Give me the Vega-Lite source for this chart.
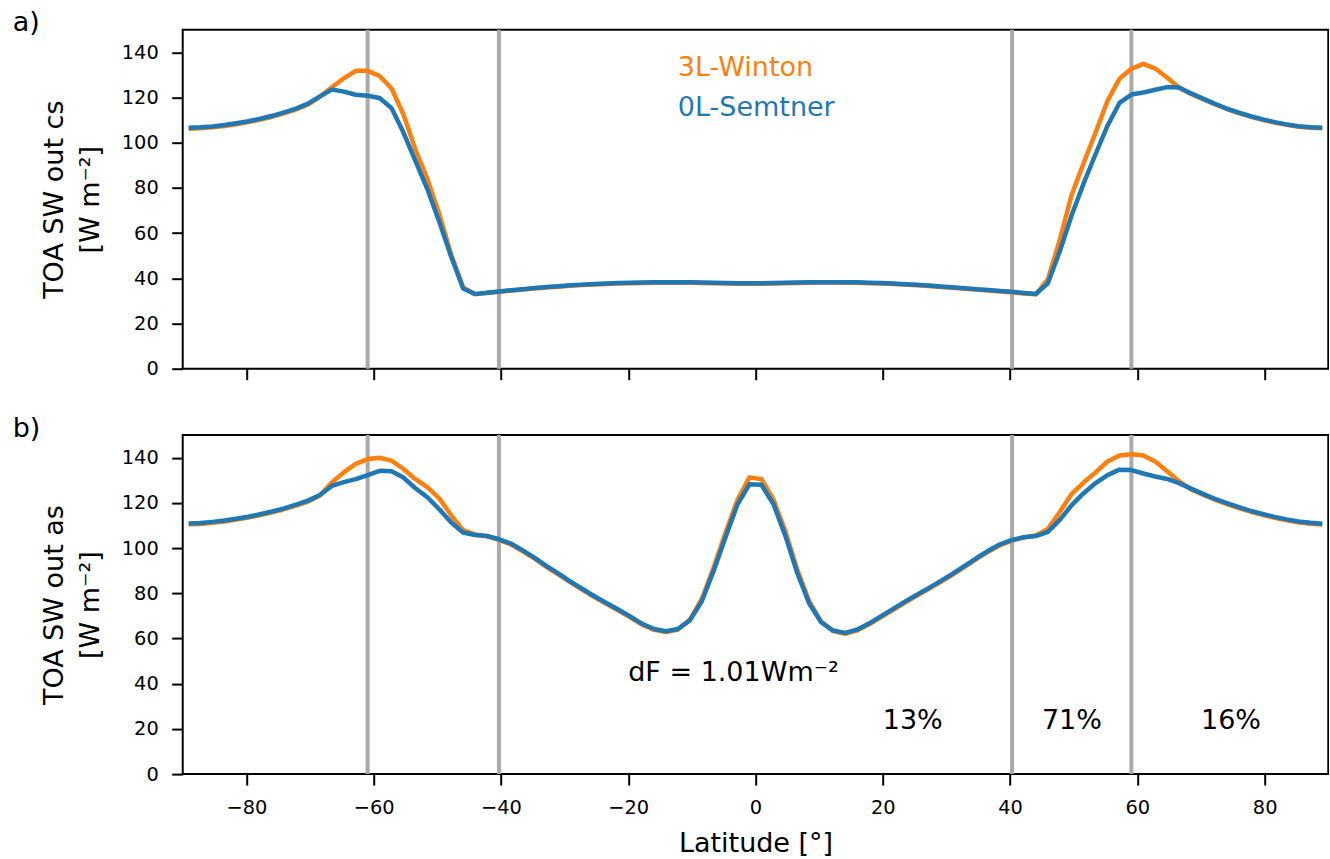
{
  "$schema": "https://vega.github.io/schema/vega-lite/v6.json",
  "padding": {"left": 11.7, "top": 7.7, "right": 0, "bottom": 0},
  "spacing": 66.4,
  "bounds": "flush",
  "config": {
    "font": "DejaVu Sans",
    "view": {"stroke": "black", "strokeWidth": 2},
    "axis": {"domain": false, "grid": false, "tickColor": "black", "tickWidth": 2, "tickSize": 11, "labelFontSize": 19.4, "labelColor": "black", "labelFont": "DejaVu Sans", "titleFont": "DejaVu Sans", "titleFontSize": 27, "titleFontWeight": "normal", "titleColor": "black", "labelPadding": 13.5},
    "title": {"font": "DejaVu Sans", "fontSize": 27, "fontWeight": "normal", "color": "black", "anchor": "start", "frame": "group", "baseline": "alphabetic", "offset": 0, "dx": -170, "dy": 13.5}
  },
  "datasets": {
    "bounds": [{"lat": -60.9375}, {"lat": -40.3125}, {"lat": 40.3125}, {"lat": 59.0625}],
    "legendtext": [
      {"lat": -12.2, "flux": 129.4, "model": "3L-Winton"},
      {"lat": -12.2, "flux": 111.7, "model": "0L-Semtner"}
    ],
    "notes": [
      {"lat": -20, "flux": 41, "label": "dF = 1.01Wm⁻²"},
      {"lat": 20, "flux": 20, "label": "13%"},
      {"lat": 45, "flux": 20, "label": "71%"},
      {"lat": 70, "flux": 20, "label": "16%"}
    ],
    "cs": [
      {"lat": -89.0625, "winton": 106.2, "semtner": 106.6},
      {"lat": -87.1875, "winton": 106.4, "semtner": 106.8},
      {"lat": -85.3125, "winton": 106.8, "semtner": 107.2},
      {"lat": -83.4375, "winton": 107.4, "semtner": 107.8},
      {"lat": -81.5625, "winton": 108.2, "semtner": 108.6},
      {"lat": -79.6875, "winton": 109.1, "semtner": 109.5},
      {"lat": -77.8125, "winton": 110.2, "semtner": 110.6},
      {"lat": -75.9375, "winton": 111.5, "semtner": 111.9},
      {"lat": -74.0625, "winton": 113.0, "semtner": 113.4},
      {"lat": -72.1875, "winton": 114.7, "semtner": 115.1},
      {"lat": -70.3125, "winton": 116.9, "semtner": 117.3},
      {"lat": -68.4375, "winton": 120.3, "semtner": 120.5},
      {"lat": -66.5625, "winton": 124.5, "semtner": 123.5},
      {"lat": -64.6875, "winton": 128.5, "semtner": 122.6},
      {"lat": -62.8125, "winton": 131.8, "semtner": 121.2},
      {"lat": -60.9375, "winton": 131.8, "semtner": 120.8},
      {"lat": -59.0625, "winton": 129.5, "semtner": 119.8},
      {"lat": -57.1875, "winton": 124.0, "semtner": 115.3},
      {"lat": -55.3125, "winton": 112.5, "semtner": 104.5},
      {"lat": -53.4375, "winton": 97.0, "semtner": 92.0},
      {"lat": -51.5625, "winton": 84.0, "semtner": 79.5},
      {"lat": -49.6875, "winton": 68.5, "semtner": 65.0},
      {"lat": -47.8125, "winton": 50.5, "semtner": 49.5},
      {"lat": -45.9375, "winton": 36.0, "semtner": 35.5},
      {"lat": -44.0625, "winton": 33.0, "semtner": 33.0},
      {"lat": -42.1875, "winton": 33.5, "semtner": 33.6},
      {"lat": -40.3125, "winton": 34.0, "semtner": 34.2},
      {"lat": -38.4375, "winton": 34.5, "semtner": 34.7},
      {"lat": -36.5625, "winton": 35.0, "semtner": 35.2},
      {"lat": -34.6875, "winton": 35.5, "semtner": 35.7},
      {"lat": -32.8125, "winton": 35.9, "semtner": 36.1},
      {"lat": -30.9375, "winton": 36.3, "semtner": 36.5},
      {"lat": -29.0625, "winton": 36.7, "semtner": 36.9},
      {"lat": -27.1875, "winton": 37.0, "semtner": 37.2},
      {"lat": -25.3125, "winton": 37.3, "semtner": 37.5},
      {"lat": -23.4375, "winton": 37.5, "semtner": 37.7},
      {"lat": -21.5625, "winton": 37.7, "semtner": 37.9},
      {"lat": -19.6875, "winton": 37.8, "semtner": 38.0},
      {"lat": -17.8125, "winton": 37.9, "semtner": 38.1},
      {"lat": -15.9375, "winton": 38.0, "semtner": 38.2},
      {"lat": -14.0625, "winton": 38.0, "semtner": 38.2},
      {"lat": -12.1875, "winton": 38.0, "semtner": 38.2},
      {"lat": -10.3125, "winton": 38.0, "semtner": 38.2},
      {"lat": -8.4375, "winton": 37.9, "semtner": 38.1},
      {"lat": -6.5625, "winton": 37.8, "semtner": 38.0},
      {"lat": -4.6875, "winton": 37.7, "semtner": 37.9},
      {"lat": -2.8125, "winton": 37.6, "semtner": 37.8},
      {"lat": -0.9375, "winton": 37.6, "semtner": 37.8},
      {"lat": 0.9375, "winton": 37.6, "semtner": 37.8},
      {"lat": 2.8125, "winton": 37.7, "semtner": 37.9},
      {"lat": 4.6875, "winton": 37.8, "semtner": 38.0},
      {"lat": 6.5625, "winton": 37.9, "semtner": 38.1},
      {"lat": 8.4375, "winton": 38.0, "semtner": 38.2},
      {"lat": 10.3125, "winton": 38.1, "semtner": 38.3},
      {"lat": 12.1875, "winton": 38.1, "semtner": 38.3},
      {"lat": 14.0625, "winton": 38.0, "semtner": 38.2},
      {"lat": 15.9375, "winton": 38.0, "semtner": 38.2},
      {"lat": 17.8125, "winton": 37.8, "semtner": 38.0},
      {"lat": 19.6875, "winton": 37.7, "semtner": 37.9},
      {"lat": 21.5625, "winton": 37.5, "semtner": 37.7},
      {"lat": 23.4375, "winton": 37.2, "semtner": 37.4},
      {"lat": 25.3125, "winton": 36.9, "semtner": 37.1},
      {"lat": 27.1875, "winton": 36.6, "semtner": 36.8},
      {"lat": 29.0625, "winton": 36.2, "semtner": 36.4},
      {"lat": 30.9375, "winton": 35.8, "semtner": 36.0},
      {"lat": 32.8125, "winton": 35.4, "semtner": 35.6},
      {"lat": 34.6875, "winton": 35.0, "semtner": 35.2},
      {"lat": 36.5625, "winton": 34.6, "semtner": 34.8},
      {"lat": 38.4375, "winton": 34.2, "semtner": 34.4},
      {"lat": 40.3125, "winton": 33.8, "semtner": 34.0},
      {"lat": 42.1875, "winton": 33.3, "semtner": 33.5},
      {"lat": 44.0625, "winton": 32.9, "semtner": 33.1},
      {"lat": 45.9375, "winton": 39.5, "semtner": 37.8},
      {"lat": 47.8125, "winton": 57.0, "semtner": 52.0},
      {"lat": 49.6875, "winton": 77.0, "semtner": 68.0},
      {"lat": 51.5625, "winton": 91.0, "semtner": 82.0},
      {"lat": 53.4375, "winton": 104.5, "semtner": 95.0},
      {"lat": 55.3125, "winton": 118.5, "semtner": 107.5},
      {"lat": 57.1875, "winton": 128.3, "semtner": 117.6},
      {"lat": 59.0625, "winton": 132.7, "semtner": 121.3},
      {"lat": 60.9375, "winton": 134.9, "semtner": 122.2},
      {"lat": 62.8125, "winton": 132.8, "semtner": 123.4},
      {"lat": 64.6875, "winton": 128.7, "semtner": 124.6},
      {"lat": 66.5625, "winton": 124.3, "semtner": 124.4},
      {"lat": 68.4375, "winton": 121.6, "semtner": 121.8},
      {"lat": 70.3125, "winton": 119.3, "semtner": 119.5},
      {"lat": 72.1875, "winton": 117.0, "semtner": 117.2},
      {"lat": 74.0625, "winton": 114.9, "semtner": 115.1},
      {"lat": 75.9375, "winton": 113.1, "semtner": 113.3},
      {"lat": 77.8125, "winton": 111.5, "semtner": 111.7},
      {"lat": 79.6875, "winton": 110.1, "semtner": 110.3},
      {"lat": 81.5625, "winton": 108.9, "semtner": 109.1},
      {"lat": 83.4375, "winton": 107.9, "semtner": 108.1},
      {"lat": 85.3125, "winton": 107.1, "semtner": 107.3},
      {"lat": 87.1875, "winton": 106.6, "semtner": 106.8},
      {"lat": 89.0625, "winton": 106.4, "semtner": 106.6}
    ],
    "as": [
      {"lat": -89.0625, "winton": 110.5, "semtner": 110.9},
      {"lat": -87.1875, "winton": 110.7, "semtner": 111.1},
      {"lat": -85.3125, "winton": 111.2, "semtner": 111.6},
      {"lat": -83.4375, "winton": 111.8, "semtner": 112.2},
      {"lat": -81.5625, "winton": 112.6, "semtner": 113.0},
      {"lat": -79.6875, "winton": 113.5, "semtner": 113.9},
      {"lat": -77.8125, "winton": 114.6, "semtner": 115.0},
      {"lat": -75.9375, "winton": 115.8, "semtner": 116.2},
      {"lat": -74.0625, "winton": 117.2, "semtner": 117.6},
      {"lat": -72.1875, "winton": 118.8, "semtner": 119.2},
      {"lat": -70.3125, "winton": 120.6, "semtner": 121.0},
      {"lat": -68.4375, "winton": 123.3, "semtner": 123.5},
      {"lat": -66.5625, "winton": 129.0, "semtner": 127.5},
      {"lat": -64.6875, "winton": 133.5, "semtner": 129.2},
      {"lat": -62.8125, "winton": 137.3, "semtner": 130.5},
      {"lat": -60.9375, "winton": 139.4, "semtner": 132.3},
      {"lat": -59.0625, "winton": 140.0, "semtner": 134.2},
      {"lat": -57.1875, "winton": 138.7, "semtner": 134.0},
      {"lat": -55.3125, "winton": 135.0, "semtner": 131.2},
      {"lat": -53.4375, "winton": 130.5, "semtner": 126.5},
      {"lat": -51.5625, "winton": 127.0, "semtner": 122.5},
      {"lat": -49.6875, "winton": 122.0, "semtner": 117.2},
      {"lat": -47.8125, "winton": 114.5, "semtner": 111.3},
      {"lat": -45.9375, "winton": 107.9, "semtner": 106.9},
      {"lat": -44.0625, "winton": 106.0, "semtner": 105.8},
      {"lat": -42.1875, "winton": 105.2, "semtner": 105.4},
      {"lat": -40.3125, "winton": 103.6, "semtner": 103.9},
      {"lat": -38.4375, "winton": 101.6, "semtner": 102.0},
      {"lat": -36.5625, "winton": 98.6, "semtner": 99.0},
      {"lat": -34.6875, "winton": 95.3, "semtner": 95.7},
      {"lat": -32.8125, "winton": 91.6, "semtner": 92.0},
      {"lat": -30.9375, "winton": 88.3, "semtner": 88.7},
      {"lat": -29.0625, "winton": 84.8, "semtner": 85.2},
      {"lat": -27.1875, "winton": 81.5, "semtner": 81.9},
      {"lat": -25.3125, "winton": 78.3, "semtner": 78.7},
      {"lat": -23.4375, "winton": 75.3, "semtner": 75.7},
      {"lat": -21.5625, "winton": 72.4, "semtner": 72.8},
      {"lat": -19.6875, "winton": 69.4, "semtner": 69.8},
      {"lat": -17.8125, "winton": 66.1, "semtner": 66.5},
      {"lat": -15.9375, "winton": 63.8, "semtner": 64.2},
      {"lat": -14.0625, "winton": 62.9, "semtner": 63.2},
      {"lat": -12.1875, "winton": 64.0, "semtner": 64.2},
      {"lat": -10.3125, "winton": 68.3, "semtner": 68.0},
      {"lat": -8.4375, "winton": 77.5, "semtner": 76.5},
      {"lat": -6.5625, "winton": 91.5, "semtner": 90.0},
      {"lat": -4.6875, "winton": 107.0, "semtner": 105.0},
      {"lat": -2.8125, "winton": 121.5, "semtner": 119.4},
      {"lat": -0.9375, "winton": 131.3, "semtner": 128.3},
      {"lat": 0.9375, "winton": 130.5, "semtner": 128.0},
      {"lat": 2.8125, "winton": 121.5, "semtner": 119.5},
      {"lat": 4.6875, "winton": 107.5, "semtner": 105.5},
      {"lat": 6.5625, "winton": 90.5, "semtner": 89.0},
      {"lat": 8.4375, "winton": 76.5, "semtner": 75.5},
      {"lat": 10.3125, "winton": 67.5, "semtner": 67.2},
      {"lat": 12.1875, "winton": 63.3, "semtner": 63.5},
      {"lat": 14.0625, "winton": 62.1, "semtner": 62.5},
      {"lat": 15.9375, "winton": 63.5, "semtner": 63.9},
      {"lat": 17.8125, "winton": 66.2, "semtner": 66.6},
      {"lat": 19.6875, "winton": 69.4, "semtner": 69.8},
      {"lat": 21.5625, "winton": 72.6, "semtner": 73.0},
      {"lat": 23.4375, "winton": 75.8, "semtner": 76.2},
      {"lat": 25.3125, "winton": 78.9, "semtner": 79.3},
      {"lat": 27.1875, "winton": 81.9, "semtner": 82.3},
      {"lat": 29.0625, "winton": 85.0, "semtner": 85.4},
      {"lat": 30.9375, "winton": 88.2, "semtner": 88.6},
      {"lat": 32.8125, "winton": 91.6, "semtner": 92.0},
      {"lat": 34.6875, "winton": 95.1, "semtner": 95.5},
      {"lat": 36.5625, "winton": 98.4, "semtner": 98.8},
      {"lat": 38.4375, "winton": 101.3, "semtner": 101.7},
      {"lat": 40.3125, "winton": 103.3, "semtner": 103.6},
      {"lat": 42.1875, "winton": 104.8, "semtner": 104.8},
      {"lat": 44.0625, "winton": 105.6, "semtner": 105.3},
      {"lat": 45.9375, "winton": 108.5, "semtner": 107.2},
      {"lat": 47.8125, "winton": 116.0, "semtner": 112.5},
      {"lat": 49.6875, "winton": 124.0, "semtner": 119.0},
      {"lat": 51.5625, "winton": 129.0, "semtner": 124.3},
      {"lat": 53.4375, "winton": 133.5, "semtner": 128.8},
      {"lat": 55.3125, "winton": 138.3, "semtner": 132.3},
      {"lat": 57.1875, "winton": 141.0, "semtner": 134.7},
      {"lat": 59.0625, "winton": 141.5, "semtner": 134.5},
      {"lat": 60.9375, "winton": 141.0, "semtner": 133.0},
      {"lat": 62.8125, "winton": 138.3, "semtner": 131.7},
      {"lat": 64.6875, "winton": 134.0, "semtner": 130.6},
      {"lat": 66.5625, "winton": 129.5, "semtner": 128.7},
      {"lat": 68.4375, "winton": 126.0, "semtner": 126.3},
      {"lat": 70.3125, "winton": 123.6, "semtner": 124.0},
      {"lat": 72.1875, "winton": 121.4, "semtner": 121.8},
      {"lat": 74.0625, "winton": 119.5, "semtner": 119.9},
      {"lat": 75.9375, "winton": 117.7, "semtner": 118.1},
      {"lat": 77.8125, "winton": 116.1, "semtner": 116.5},
      {"lat": 79.6875, "winton": 114.7, "semtner": 115.1},
      {"lat": 81.5625, "winton": 113.4, "semtner": 113.8},
      {"lat": 83.4375, "winton": 112.3, "semtner": 112.7},
      {"lat": 85.3125, "winton": 111.4, "semtner": 111.8},
      {"lat": 87.1875, "winton": 110.8, "semtner": 111.2},
      {"lat": 89.0625, "winton": 110.4, "semtner": 110.8}
    ]
  },
  "vconcat": [
    {
      "width": 1145.6,
      "height": 339,
      "title": {"text": "a)"},
      "layer": [
        {
          "data": {"name": "bounds"},
          "mark": {"type": "rule", "color": "#aaaaaa", "strokeWidth": 4},
          "encoding": {
            "x": {"field": "lat", "type": "quantitative", "scale": {"domain": [-90, 90], "nice": false, "zero": false}, "axis": {"values": [-80, -60, -40, -20, 0, 20, 40, 60, 80], "labels": false, "title": null}}
          }
        },
        {
          "data": {"name": "cs"},
          "mark": {"type": "line", "strokeWidth": 4.5, "strokeJoin": "round"},
          "encoding": {
            "x": {"field": "lat", "type": "quantitative"},
            "y": {"field": "winton", "type": "quantitative", "scale": {"domain": [0, 150], "nice": false}, "axis": {"values": [0, 20, 40, 60, 80, 100, 120, 140], "title": ["TOA SW out cs", "[W m⁻²]"], "titleX": -120.7, "titleY": 169.5, "titleAngle": -90, "titleAlign": "center", "titleBaseline": "alphabetic", "titleLineHeight": 37}},
            "color": {"datum": "3L-Winton", "scale": {"domain": ["3L-Winton", "0L-Semtner"], "range": ["#ff7f0e", "#1f77b4"]}, "legend": null}
          }
        },
        {
          "data": {"name": "cs"},
          "mark": {"type": "line", "strokeWidth": 4.5, "strokeJoin": "round"},
          "encoding": {
            "x": {"field": "lat", "type": "quantitative"},
            "y": {"field": "semtner", "type": "quantitative"},
            "color": {"datum": "0L-Semtner"}
          }
        },
        {
          "data": {"name": "legendtext"},
          "mark": {"type": "text", "align": "left", "baseline": "alphabetic", "fontSize": 27, "font": "DejaVu Sans"},
          "encoding": {
            "x": {"field": "lat", "type": "quantitative"},
            "y": {"field": "flux", "type": "quantitative"},
            "text": {"field": "model"},
            "color": {"field": "model"}
          }
        }
      ]
    },
    {
      "width": 1145.6,
      "height": 339,
      "title": {"text": "b)"},
      "layer": [
        {
          "data": {"name": "bounds"},
          "mark": {"type": "rule", "color": "#aaaaaa", "strokeWidth": 4},
          "encoding": {
            "x": {"field": "lat", "type": "quantitative", "scale": {"domain": [-90, 90], "nice": false, "zero": false}, "axis": {"values": [-80, -60, -40, -20, 0, 20, 40, 60, 80], "title": "Latitude [°]", "titleY": 77.7, "titleBaseline": "alphabetic"}}
          }
        },
        {
          "data": {"name": "as"},
          "mark": {"type": "line", "strokeWidth": 4.5, "strokeJoin": "round"},
          "encoding": {
            "x": {"field": "lat", "type": "quantitative"},
            "y": {"field": "winton", "type": "quantitative", "scale": {"domain": [0, 150], "nice": false}, "axis": {"values": [0, 20, 40, 60, 80, 100, 120, 140], "title": ["TOA SW out as", "[W m⁻²]"], "titleX": -120.7, "titleY": 169.5, "titleAngle": -90, "titleAlign": "center", "titleBaseline": "alphabetic", "titleLineHeight": 37}},
            "color": {"datum": "3L-Winton", "scale": {"domain": ["3L-Winton", "0L-Semtner"], "range": ["#ff7f0e", "#1f77b4"]}, "legend": null}
          }
        },
        {
          "data": {"name": "as"},
          "mark": {"type": "line", "strokeWidth": 4.5, "strokeJoin": "round"},
          "encoding": {
            "x": {"field": "lat", "type": "quantitative"},
            "y": {"field": "semtner", "type": "quantitative"},
            "color": {"datum": "0L-Semtner"}
          }
        },
        {
          "data": {"name": "notes"},
          "mark": {"type": "text", "align": "left", "baseline": "alphabetic", "fontSize": 27, "font": "DejaVu Sans", "color": "black"},
          "encoding": {
            "x": {"field": "lat", "type": "quantitative"},
            "y": {"field": "flux", "type": "quantitative"},
            "text": {"field": "label"}
          }
        }
      ]
    }
  ]
}
